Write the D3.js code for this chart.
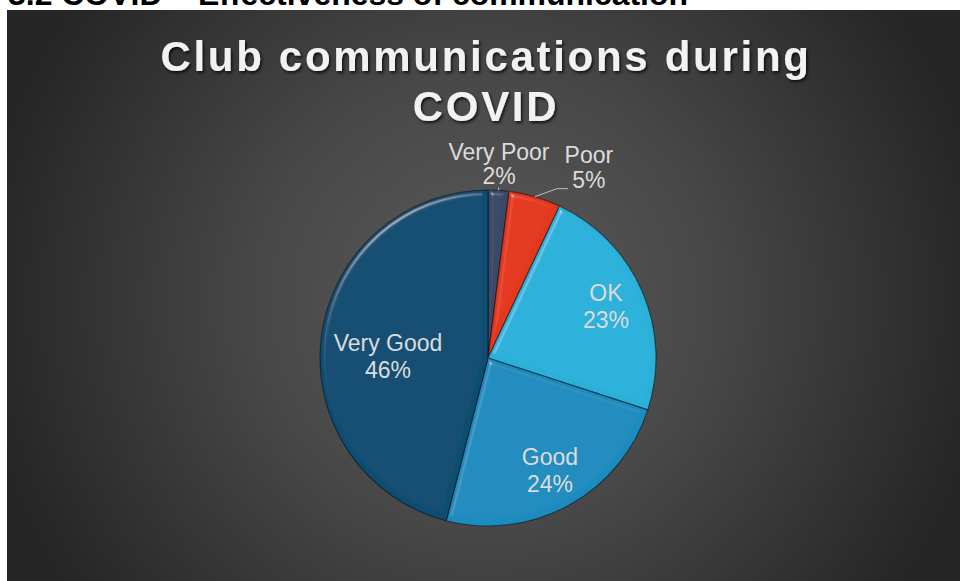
<!DOCTYPE html>
<html><head><meta charset="utf-8">
<script src="https://cdn.jsdelivr.net/npm/d3@7"></script>
<style>html,body{margin:0;padding:0;background:#fff;overflow:hidden}</style>
</head><body>
<svg id="chart" width="960" height="581"></svg>
<script>
const heading = "3.2 COVID – Effectiveness of communication";
const titleLines = ["Club communications during", "COVID"];
const categories = ["Very Poor", "Poor", "OK", "Good", "Very Good"];
const values = [2, 5, 23, 24, 46];
const colors = ["#3a4968", "#e4381b", "#2ab0d9", "#1a8cbe", "#0b4d72"];

const svg = d3.select("#chart");
const W = 960, H = 581;
const defs = svg.append("defs");

const bg = defs.append("radialGradient").attr("id", "bg")
  .attr("gradientUnits", "userSpaceOnUse").attr("cx", 484).attr("cy", 300).attr("r", 500);
bg.append("stop").attr("offset", 0).attr("stop-color", "#5a5a5a");
bg.append("stop").attr("offset", 0.45).attr("stop-color", "#484848");
bg.append("stop").attr("offset", 1).attr("stop-color", "#262626");

const ts = defs.append("filter").attr("id", "tshadow").attr("x", "-5%").attr("y", "-20%").attr("width", "110%").attr("height", "150%");
ts.append("feDropShadow").attr("dx", 1.5).attr("dy", 2).attr("stdDeviation", 1.5)
  .attr("flood-color", "#000").attr("flood-opacity", 0.75);

const bev = defs.append("filter").attr("id", "bevel").attr("x", "-10%").attr("y", "-10%").attr("width", "120%").attr("height", "120%");
bev.append("feGaussianBlur").attr("in", "SourceAlpha").attr("stdDeviation", 2.5).attr("result", "b");
const sp = bev.append("feSpecularLighting").attr("in", "b").attr("surfaceScale", 4)
  .attr("specularConstant", 0.9).attr("specularExponent", 45).attr("lighting-color", "#ffffff").attr("result", "s");
sp.append("feDistantLight").attr("azimuth", 235).attr("elevation", 40);
bev.append("feComposite").attr("in", "s").attr("in2", "SourceAlpha").attr("operator", "in").attr("result", "s2");
bev.append("feComposite").attr("in", "SourceGraphic").attr("in2", "s2").attr("operator", "arithmetic")
  .attr("k1", 0).attr("k2", 1).attr("k3", 0.4).attr("k4", 0);

// heading (cut off at top, as in the source page)
svg.append("text").attr("x", 8).attr("y", 5)
  .attr("font-family", "Liberation Sans, Arial, sans-serif").attr("font-weight", "bold")
  .attr("font-size", 32).attr("fill", "#000")
  .attr("textLength", 680).attr("lengthAdjust", "spacingAndGlyphs")
  .text(heading);

// chart area
svg.append("rect").attr("x", 7).attr("y", 10).attr("width", W - 7).attr("height", H - 10).attr("fill", "url(#bg)");

// title
const title = svg.append("text").attr("text-anchor", "middle")
  .attr("font-family", "Liberation Sans, Arial, sans-serif").attr("font-weight", "bold")
  .attr("font-size", 42).attr("fill", "#f2f2f2").attr("letter-spacing", 2.7)
  .attr("filter", "url(#tshadow)");
title.selectAll("tspan").data(titleLines).join("tspan")
  .attr("x", 486).attr("y", (d, i) => 71 + i * 50)
  .text(d => d);

// pie
const cx = 488, cy = 358, r = 168;
const total = d3.sum(values);
const data = categories.map((c, i) => ({ cat: c, value: values[i] }));
const pie = d3.pie().sort(null).value(d => d.value).startAngle(0).endAngle(2 * Math.PI);
const arcs = pie(data);
const arc = d3.arc().innerRadius(0).outerRadius(r);
const color = d3.scaleOrdinal().domain(categories).range(colors);

const g = svg.append("g").attr("transform", `translate(${cx},${cy})`);
g.selectAll("path.slice").data(arcs).join("path").attr("class", "slice")
  .attr("d", arc)
  .attr("fill", d => color(d.data.cat))
  .attr("stroke", "rgba(0,0,0,0.45)").attr("stroke-width", 1.2)
  .attr("filter", "url(#bevel)");

const pct = d => Math.round(d.value / total * 100) + "%";
const font = "Liberation Sans, Arial, sans-serif";
const labelColor = "#dcdcdc";
const mid = d => (d.startAngle + d.endAngle) / 2;
const pt = (a, rad) => [Math.sin(a) * rad, -Math.cos(a) * rad];

arcs.forEach((d, i) => {
  const frac = d.value / total;
  const a = mid(d);
  let lx, ly, gap; // centre x, baseline of first line, line gap
  if (frac >= 0.1) {
    const big = frac > 0.4;
    const rad = big ? r * 0.6 : r * 0.765;
    const c = d3.arc().innerRadius(rad).outerRadius(rad).centroid(d);
    lx = c[0]; ly = c[1] + (big ? 6 : -6); gap = 27;
  } else if (i === 0) {
    const p0 = pt(a, r), p1 = pt(a, r + 3);
    g.append("line").attr("x1", p0[0]).attr("y1", p0[1]).attr("x2", p1[0]).attr("y2", p1[1])
      .attr("stroke", "#bfbfbf").attr("stroke-width", 1);
    const p = pt(a, r + 7);
    lx = p[0]; ly = p[1] - 23; gap = 24;
  } else {
    const p0 = pt(a, r);
    const elbow = [p0[0] + 22, p0[1] - 8];
    const end = [elbow[0] + 11, elbow[1]];
    g.append("polyline").attr("points", [p0, elbow, end].map(q => q.join(",")).join(" "))
      .attr("fill", "none").attr("stroke", "#bfbfbf").attr("stroke-width", 1);
    lx = end[0] + 21; ly = end[1] - 26; gap = 25;
  }
  const t = g.append("text").attr("text-anchor", "middle").attr("font-family", font)
    .attr("font-size", 23).attr("fill", labelColor);
  t.append("tspan").attr("x", lx).attr("y", ly).text(d.data.cat);
  t.append("tspan").attr("x", lx).attr("y", ly + gap).text(pct(d));
});
</script>
</body></html>
